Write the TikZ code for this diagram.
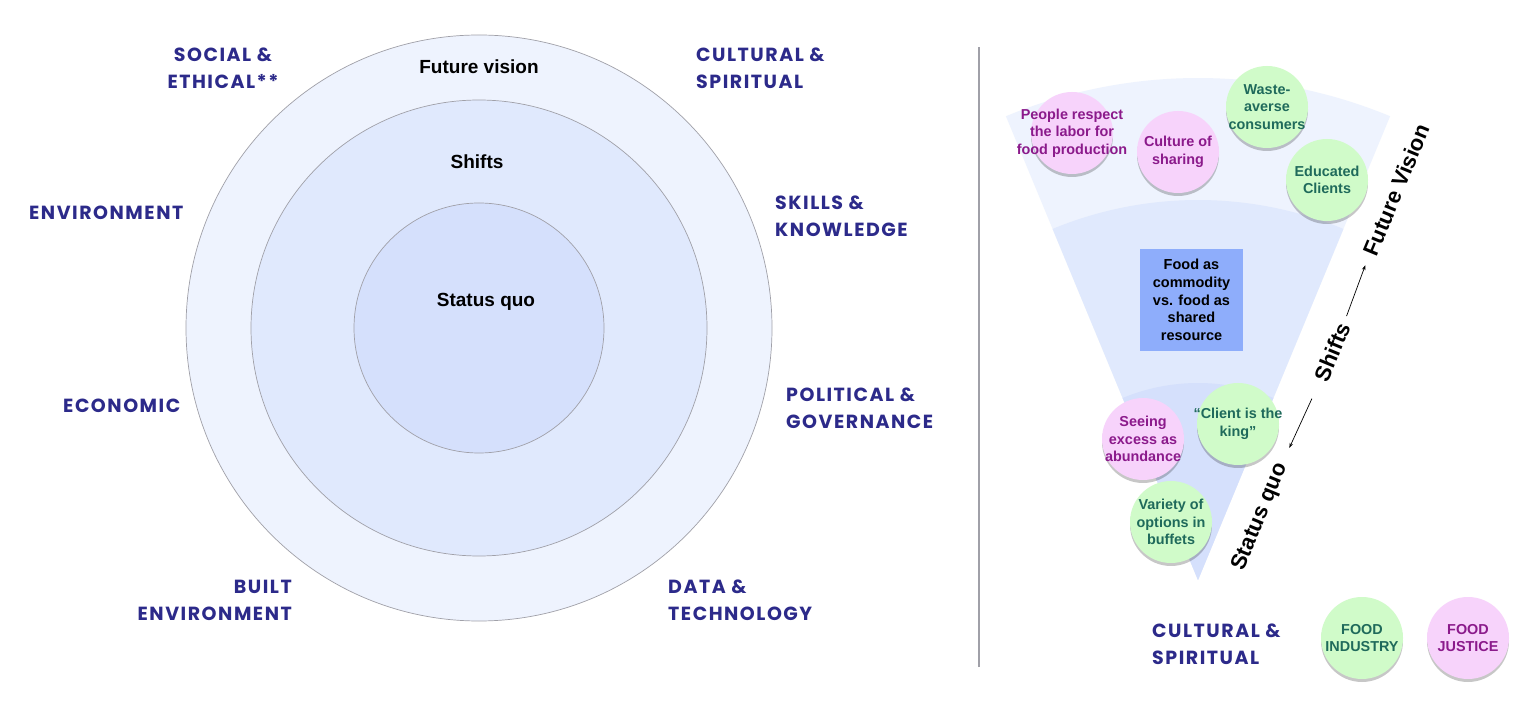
\documentclass[tikz,border=0pt]{standalone}
\usepackage{fontspec}
\setmainfont{Liberation Sans}
\newfontfamily\labfont{Poppins}[LetterSpace=8]
\usetikzlibrary{shadows,arrows.meta}
\definecolor{labblue}{HTML}{2C2A8A}
\definecolor{ringgray}{HTML}{A0A0A8}
\definecolor{cout}{HTML}{EEF3FE}
\definecolor{cmid}{HTML}{E0E9FD}
\definecolor{cin}{HTML}{D5E0FC}
\definecolor{boxblue}{HTML}{8EADFB}
\definecolor{pinkfill}{HTML}{F7D3FB}
\definecolor{pinktext}{HTML}{8B1A8B}
\definecolor{greenfill}{HTML}{D0FBC9}
\definecolor{greentext}{HTML}{1F6A5B}
\begin{document}
\begin{tikzpicture}[x=1pt,y=1pt,
  dim/.style={font=\labfont\bfseries\fontsize{19}{27}\selectfont, text=labblue, inner sep=0},
  ring/.style={circle, draw=ringgray, line width=0.7pt, inner sep=0},
  ctext/.style={font=\bfseries\fontsize{19}{23}\selectfont, text=black, inner sep=0},
  bubble/.style={circle, minimum size=82pt, inner sep=0,
    drop shadow={shadow xshift=0pt, shadow yshift=-3pt, opacity=0.22, fill=black}},
  pinkb/.style={bubble, fill=pinkfill},
  greenb/.style={bubble, fill=greenfill},
  ptext/.style={text=pinktext, font=\bfseries\fontsize{14.4}{17.5}\selectfont, align=center, inner sep=0},
  gtext/.style={text=greentext, font=\bfseries\fontsize{14.4}{17.5}\selectfont, align=center, inner sep=0},
  rotlab/.style={font=\bfseries\fontsize{22}{26}\selectfont, rotate=67.5, inner sep=0},
  arr/.style={-{Stealth[length=5pt,width=3.5pt]}, line width=0.7pt}
]
\useasboundingbox[fill=white] (0,0) rectangle (1536,723);

% ---- left: concentric circles ----
\node[ring, fill=cout, minimum size=586pt] (outer) at (479,395) {};
\node[ring, fill=cmid, minimum size=456pt] (middle) at (479,395) {};
\node[ring, fill=cin, minimum size=250pt] (inner) at (479,395) {};
\node[ctext] (fvtext) at (479,656) {Future vision};
\node[ctext] (shtext) at (477,561) {Shifts};
\node[ctext] (sqtext) at (486,421) {Status quo};

% ---- dimension labels ----
\node[dim, align=center] (social) at (223,654.5) {SOCIAL \&\\ETHICAL**};
\node[dim, align=left, anchor=west] (cultural) at (696,654.5) {CULTURAL \&\\SPIRITUAL};
\node[dim, anchor=west] (environment) at (29,510) {ENVIRONMENT};
\node[dim, align=left, anchor=west] (skills) at (775,507) {SKILLS \&\\KNOWLEDGE};
\node[dim, anchor=west] (economic) at (63,317) {ECONOMIC};
\node[dim, align=left, anchor=west] (political) at (786,314.5) {POLITICAL \&\\GOVERNANCE};
\node[dim, align=right, anchor=east] (built) at (292,122.5) {BUILT\\ENVIRONMENT};
\node[dim, align=left, anchor=west] (data) at (668,122.5) {DATA \&\\TECHNOLOGY};

% ---- divider ----
\draw[ringgray, line width=1.3pt] (979,56) -- (979,676);

% ---- right: wedge ----
\coordinate (apex) at (1198,143);
\fill[cout] (apex) -- ++(67.5:502) arc[start angle=67.5, end angle=112.5, radius=502] -- cycle;
\fill[cmid] (apex) -- ++(67.5:380) arc[start angle=67.5, end angle=112.5, radius=380] -- cycle;
\fill[cin] (apex) -- ++(67.5:197) arc[start angle=67.5, end angle=112.5, radius=197] -- cycle;

\node[fill=boxblue, minimum width=103pt, minimum height=102pt, inner sep=0, align=center,
  font=\bfseries\fontsize{14.5}{17.7}\selectfont] (box) at (1191.5,423)
  {Food as\\commodity\\vs. food as\\shared\\resource};

\node[pinkb, label={[ptext]center:{People respect\\the labor for\\food production}}] (people) at (1072,590) {};
\node[pinkb, label={[ptext]center:{Culture of\\sharing}}] (culture) at (1178,571) {};
\node[greenb, label={[gtext]center:{Waste-\\averse\\consumers}}] (waste) at (1267,616) {};
\node[greenb, label={[gtext]center:{Educated\\Clients}}] (educated) at (1327,543) {};
\node[pinkb, label={[ptext]center:{Seeing\\excess as\\abundance}}] (seeing) at (1143,284) {};
\node[greenb, label={[gtext]center:{“Client is the\\king”}}] (client) at (1238,299) {};
\node[greenb, label={[gtext]center:{Variety of\\options in\\buffets}}] (variety) at (1171,201) {};

% ---- rotated axis ----
\node[rotlab] (rfv) at (1396,533) {Future Vision};
\node[rotlab] (rsh) at (1332,371) {Shifts};
\node[rotlab] (rsq) at (1260,206) {Status quo};
\draw[arr, shorten <=8pt, shorten >=11pt] (rsh.east) -- (rfv.west);
\draw[arr, shorten <=20pt, shorten >=18pt] (rsh.west) -- (rsq.east);

% ---- legend ----
\node[dim, align=left, anchor=west] (cultural2) at (1152,78.5) {CULTURAL \&\\SPIRITUAL};
\node[greenb, label={[gtext]center:{FOOD\\INDUSTRY}}] (foodind) at (1362,85) {};
\node[pinkb, label={[ptext]center:{FOOD\\JUSTICE}}] (foodjus) at (1468,85) {};
\end{tikzpicture}
\end{document}
